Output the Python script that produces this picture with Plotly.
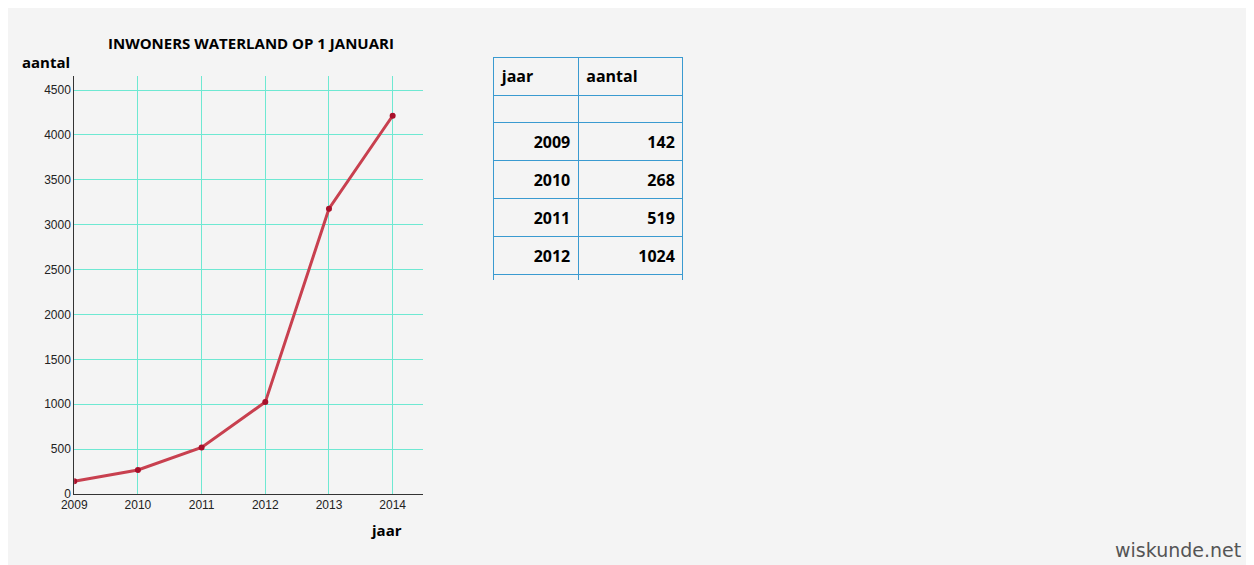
import plotly.graph_objects as go

jaren = [2009, 2010, 2011, 2012, 2013, 2014]
aantal = [142, 268, 519, 1024, 3178, 4214]
y_ticks = [0, 500, 1000, 1500, 2000, 2500, 3000, 3500, 4000, 4500]

bg = "#f4f4f4"
fig = go.Figure()
fig.add_trace(go.Scatter(
    x=jaren, y=aantal, mode="lines+markers",
    line=dict(color="#c8404f", width=3),
    marker=dict(color="#a8102a", size=6),
    xaxis="x", yaxis="y", showlegend=False,
))
fig.add_trace(go.Table(
    domain=dict(x=[0.381, 0.5335], y=[0.512, 0.912]),
    columnwidth=[84, 104],
    header=dict(values=["<b>jaar</b>", "<b>aantal</b>"], align="left", height=27.4,
                fill_color=bg, line_color="#3a9ad0",
                font=dict(family="Open Sans", size=16, color="black")),
    cells=dict(values=[[""] + [f"<b>{j}</b>" for j in jaren], [""] + [f"<b>{a}</b>" for a in aantal]],
               align="right", height=27.4, fill_color=bg, line_color="#3a9ad0",
               font=dict(family="Open Sans", size=16, color="black")),
))
grid = "#6ee8d2"

def P(x, y):
    return (x - 8) / 1238, 1 - (y - 8) / 557

ann = []
for txt, px, py, fam, sz, col in [
    ("<b>INWONERS WATERLAND OP 1 JANUARI</b>", 237, 43, "Open Sans", 15, "black"),
    ("<b>aantal</b>", 33, 62, "Open Sans", 15, "black"),
    ("<b>jaar</b>", 373, 529, "Open Sans", 15, "black"),
    ("wiskunde.net", 1162, 549, "DejaVu Sans", 19, "#555"),
]:
    ax, ay = P(px, py)
    ann.append(dict(text=txt, x=ax, y=ay, xref="paper", yref="paper", xanchor="center",
                    yanchor="middle", showarrow=False, font=dict(family=fam, size=sz, color=col)))

fig.update_layout(
    width=1254, height=565, margin=dict(l=0, r=0, t=0, b=0),
    paper_bgcolor=bg, plot_bgcolor=bg,
    font=dict(family="Liberation Sans", size=12, color="#222"),
    xaxis=dict(domain=[0.0429, 0.3236], range=[2009, 2014.47], tickvals=jaren,
               showgrid=True, gridcolor=grid, zeroline=False, showline=True,
               linecolor="#333", ticks="", tickfont=dict(size=12)),
    yaxis=dict(domain=[0.129, 0.878], range=[0, 4656], tickvals=y_ticks,
               showgrid=True, gridcolor=grid, zeroline=False, showline=True,
               linecolor="#333", ticks="", tickfont=dict(size=12)),
    annotations=ann,
)
fig.write_html("out.html")
